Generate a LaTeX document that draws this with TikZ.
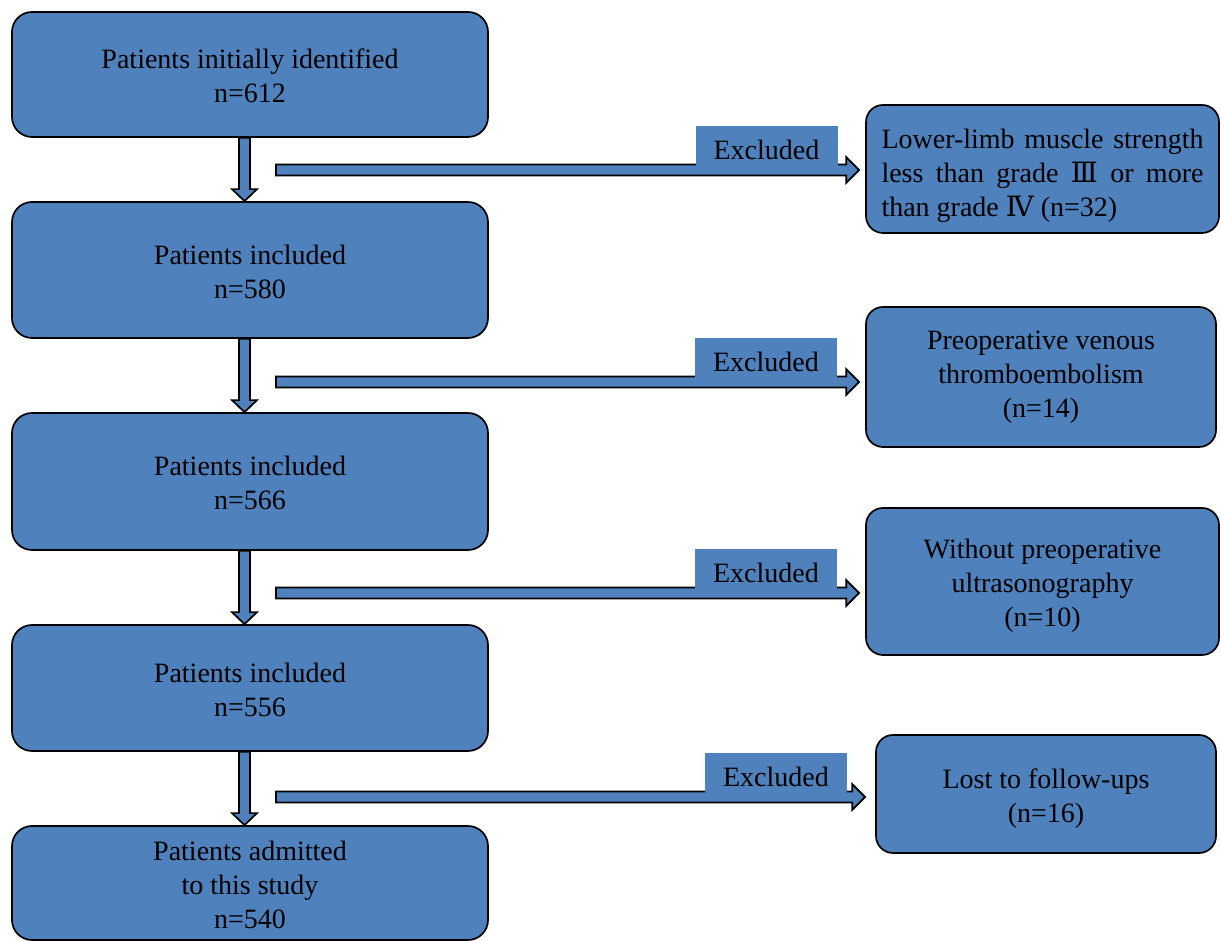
\documentclass[tikz,border=0pt]{standalone}
\usepackage{fontspec}
\setmainfont{Liberation Serif}
\newfontfamily\romfont{DejaVu Serif}
\usetikzlibrary{calc}
\definecolor{boxblue}{HTML}{4F81BD}

\tikzset{
  box/.style={draw=black, line width=1.7pt, fill=boxblue, rounded corners=20pt,
    align=center, inner sep=0pt, font=\fontsize{28}{34}\selectfont},
  side/.style={box, rounded corners=17pt},
  tag/.style={fill=boxblue, inner sep=0pt, minimum width=142pt, minimum height=40pt,
    text height=27pt, anchor=south, font=\fontsize{28}{34}\selectfont},
  downarr/.style={draw=black, line width=1.7pt, fill=boxblue,
    to path={let \p1=(\tikztostart), \p2=(\tikztotarget) in
      (\x1-5.5pt,\y1) -- (\x1-5.5pt,\y2+12pt) -- (\x1-12.5pt,\y2+12pt) -- (\x1,\y2)
      -- (\x1+12.5pt,\y2+12pt) -- (\x1+5.5pt,\y2+12pt) -- (\x1+5.5pt,\y1) -- cycle}},
  rightarr/.style={draw=black, line width=1.7pt, fill=boxblue,
    to path={let \p1=(\tikztostart), \p2=(\tikztotarget) in
      (\x1,\y1-5.5pt) -- (\x2-13pt,\y1-5.5pt) -- (\x2-13pt,\y1-13pt) -- (\x2,\y1)
      -- (\x2-13pt,\y1+13pt) -- (\x2-13pt,\y1+5.5pt) -- (\x1,\y1+5.5pt) -- cycle}}
}

\begin{document}
\begin{tikzpicture}[x=1pt,y=1pt]
\useasboundingbox (0,0) rectangle (1221,941);
% left column
\node[box, minimum width=476pt, minimum height=125pt, text height=57pt] (b1) at (250,866.5) {Patients initially identified\\n=612};
\node[box, minimum width=476pt, minimum height=136pt, text height=57pt] (b2) at (250,671) {Patients included\\n=580};
\node[box, minimum width=476pt, minimum height=137pt, text height=57pt] (b3) at (250,459.5) {Patients included\\n=566};
\node[box, minimum width=476pt, minimum height=126pt, text height=58pt] (b4) at (250,253) {Patients included\\n=556};
\node[box, minimum width=476pt, minimum height=114pt, text height=91pt] (b5) at (250,58) {Patients admitted\\to this study\\n=540};
%
\draw[downarr] ([xshift=-5.5pt]b1.south) to ([xshift=-5.5pt]b2.north);
\draw[downarr] ([xshift=-5.5pt]b2.south) to ([xshift=-5.5pt]b3.north);
\draw[downarr] ([xshift=-5.5pt]b3.south) to ([xshift=-5.5pt]b4.north);
\draw[downarr] ([xshift=-5.5pt]b4.south) to ([xshift=-5.5pt]b5.north);
% right column
\node[side, minimum width=353pt, minimum height=128pt, text width=322pt, text height=33pt, align=justify] (r1) at (1042.5,772)
  {Lower-limb muscle strength\linebreak less than grade {\romfont Ⅲ} or more\linebreak than grade {\romfont Ⅳ} (n=32)};
\node[side, minimum width=350pt, minimum height=140pt] (r2) at (1041,564) {Preoperative venous\\thromboembolism\\(n=14)};
\node[side, minimum width=353pt, minimum height=147pt, text height=95pt] (r3) at (1042.5,359.5) {Without preoperative\\ultrasonography\\(n=10)};
\node[side, minimum width=340pt, minimum height=118pt, text height=63pt] (r4) at (1046,147) {Lost to follow-ups\\(n=16)};
%
\coordinate (s1) at (276,771);
\coordinate (s2) at (276,559);
\coordinate (s3) at (276,348);
\coordinate (s4) at (276,144);
\draw[rightarr] (s1) to ($(s1 -| r1.west)+(-6,0)$);
\draw[rightarr] (s2) to ($(s2 -| r2.west)+(-6,0)$);
\draw[rightarr] (s3) to ($(s3 -| r3.west)+(-6,0)$);
\draw[rightarr] (s4) to ($(s4 -| r4.west)+(-10,0)$);
%
\node[tag] (x1) at (766.5,775) {Excluded};
\node[tag] (x2) at (766,563) {Excluded};
\node[tag] (x3) at (766,352) {Excluded};
\node[tag] (x4) at (776,148) {Excluded};
\end{tikzpicture}
\end{document}
